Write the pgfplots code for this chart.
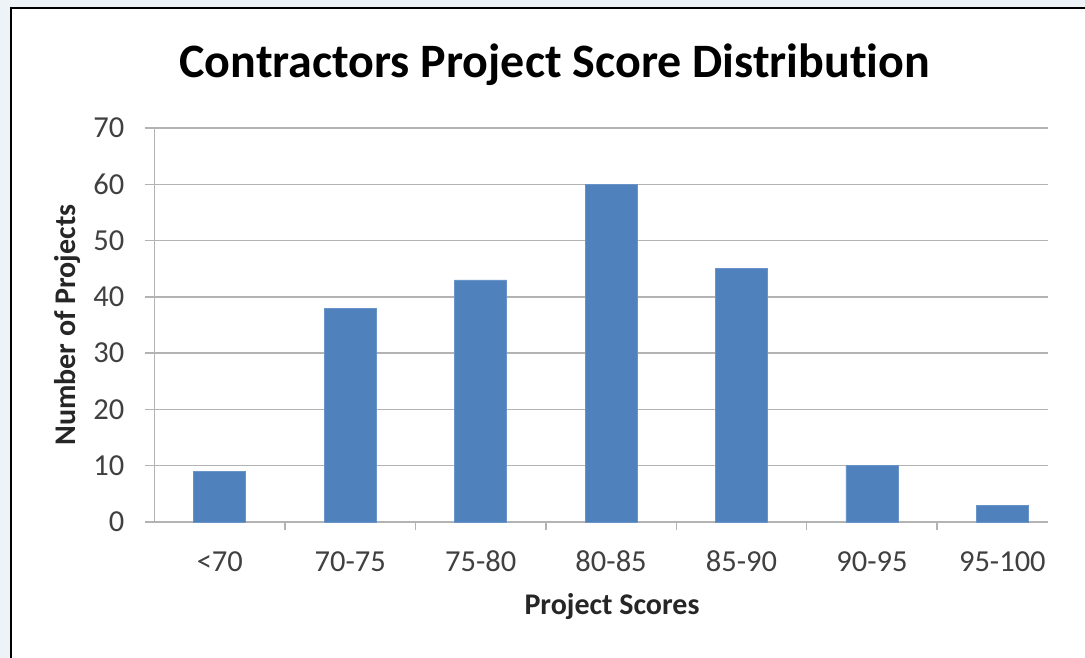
\documentclass[border=0pt]{standalone}
\usepackage{pgfplots}
\pgfplotsset{compat=1.18}
\usepackage{fontspec}
\setmainfont{Carlito}[Ligatures=NoCommon]
\definecolor{barblue}{HTML}{4F81BD}
\definecolor{gridgray}{HTML}{B3B3B3}
\definecolor{labgray}{HTML}{404040}
\definecolor{bgcol}{HTML}{EEF3F8}
\begin{document}
\begin{tikzpicture}[x=1pt,y=1pt]
\useasboundingbox (0,0) rectangle (1085,658);
\begin{scope}
\clip (0,0) rectangle (1085,658);
\fill[bgcol] (0,0) rectangle (1085,658);
\filldraw[fill=white,draw=black,line width=2.5pt] (11,650) rectangle (1100,-20);
\end{scope}
\begin{axis}[
  at={(154.6pt,136pt)}, anchor=south west,
  scale only axis, width=893.4pt, height=394pt,
  xmin=-0.5, xmax=6.35, ymin=0, ymax=70,
  axis x line*=bottom, axis y line*=left,
  axis line style={draw=gridgray, line width=1.5pt, -},
  ytick={0,10,...,70},
  ymajorgrids, major grid style={draw=gridgray, line width=1.5pt},
  tick align=outside,
  major tick length=10pt,
  major tick style={draw=gridgray, line width=1.5pt},
  xtick={0,1,2,3,4,5,6},
  xticklabels={<70,70-75,75-80,80-85,85-90,90-95,95-100},
  major x tick style={draw=none},
  extra x ticks={0.5,1.5,2.5,3.5,4.5,5.5},
  extra x tick labels={},
  extra x tick style={major x tick style={draw=gridgray, line width=1.5pt}, major tick length=8pt, grid=none},
  /pgf/number format/assume math mode=true,
  tick label style={font=\fontsize{30.5}{36}\selectfont, text=labgray},
  yticklabel style={anchor=east, inner sep=0pt, xshift=-20pt},
  xticklabel style={anchor=base, inner sep=0pt, yshift=-40pt},
  title={Contractors Project Score Distribution},
  title style={at={(axis description cs:0.448,1.112)}, anchor=base, font=\fontsize{48}{54}\selectfont\bfseries, text=black},
  xlabel={Project Scores},
  xlabel style={at={(axis description cs:0.512,-0.236)}, anchor=base, font=\fontsize{30}{34}\selectfont\bfseries, text=black!85},
  ylabel={Number of Projects},
  ylabel style={at={(axis description cs:-0.088,0.5)}, anchor=base, font=\fontsize{30}{34}\selectfont\bfseries, text=black!85},
  clip=false,
]
\addplot[ybar, bar width=52pt, fill=barblue, draw=barblue!85!white, line width=0.8pt] coordinates {
  (0,9) (1,38) (2,43) (3,60) (4,45) (5,10) (6,3)
};
\end{axis}
\end{tikzpicture}
\end{document}
